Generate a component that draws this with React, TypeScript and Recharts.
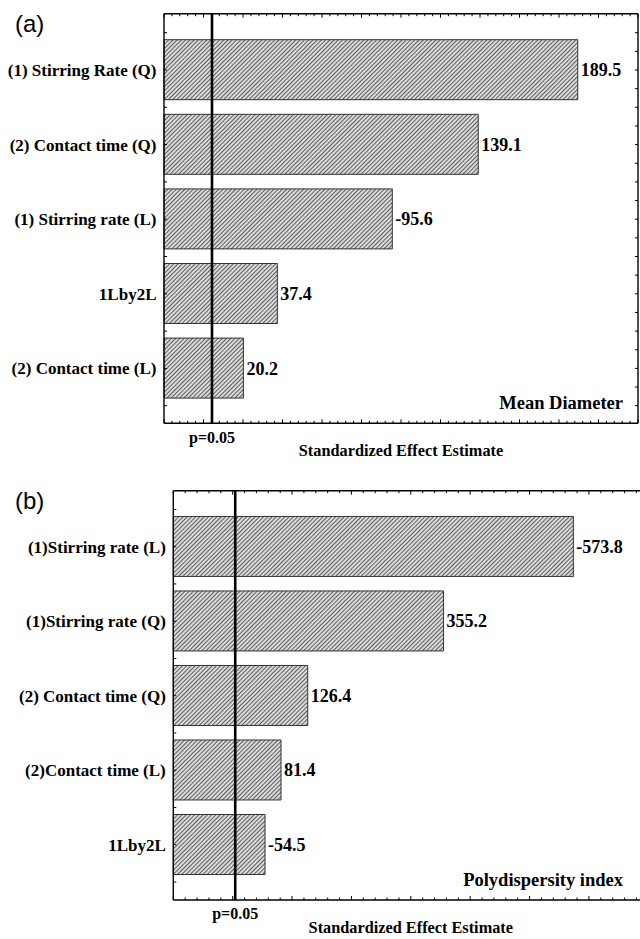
import React from 'react'
import { BarChart, Bar, XAxis, YAxis, ReferenceLine, LabelList } from 'recharts'

// (a) Mean diameter – standardized effects
const diameterTerms = [
  '(1) Stirring Rate (Q)',
  '(2) Contact time (Q)',
  '(1) Stirring rate (L)',
  '1Lby2L',
  '(2) Contact time (L)',
]
const diameterEffects = [189.5, 139.1, -95.6, 37.4, 20.2]

// (b) Polydispersity index – standardized effects
const pdiTerms = [
  '(1)Stirring rate (L)',
  '(1)Stirring rate (Q)',
  '(2) Contact time (Q)',
  '(2)Contact time (L)',
  '1Lby2L',
]
const pdiEffects = [-573.8, 355.2, 126.4, 81.4, -54.5]

const pCritical = 4.3 // p=0.05 line
const pLabel = 'p=0.05'
const xTitle = 'Standardized Effect Estimate'

const diameterDomain: [number, number] = [-20, 220]
const pdiDomain: [number, number] = [-100, 700]

const SERIF = '"Liberation Serif", "Times New Roman", serif'
const SANS = '"Liberation Sans", Arial, sans-serif'
const X_AXIS_H = 20

function buildRows(terms: string[], effects: number[], domain: [number, number]) {
  // Pareto bars run from the axis minimum to |effect|
  return terms.map((term, i) => ({
    term,
    range: [domain[0], Math.abs(effects[i])],
    label: effects[i].toFixed(1),
  }))
}

function minorTicks(domain: [number, number], step: number) {
  const out: number[] = []
  for (let v = domain[0]; v <= domain[1] + 1e-9; v += step) out.push(v)
  return out
}

interface PanelProps {
  id: string
  tag: string
  title: string
  terms: string[]
  effects: number[]
  domain: [number, number]
  tickStep: number
  majorStep: number
  width: number
  height: number
  margin: { top: number; right: number; bottom: number; left: number }
  axisWidth: number
  padding: { top: number; bottom: number }
  band: number
}

function Panel(p: PanelProps) {
  const rows = buildRows(p.terms, p.effects, p.domain)
  const plotLeft = p.margin.left + p.axisWidth
  const plotRight = p.width - p.margin.right
  const plotTop = p.margin.top
  const plotBottom = p.height - p.margin.bottom - X_AXIS_H
  const plotCenter = (plotLeft + plotRight) / 2
  const half = p.band / 2
  const quarter = p.band / 4
  const frame = { stroke: '#000', strokeWidth: 1.4 }

  const ticks = minorTicks(p.domain, p.tickStep)
  const [d0, d1] = p.domain
  const tickX = (v: number) => plotLeft + ((v - d0) / (d1 - d0)) * (plotRight - plotLeft)
  const tickLen = (v: number) => (Math.abs((v - d0) % p.majorStep) < 1e-6 ? 4 : 2.5)

  const renderCategoryTick = (props: any) => {
    const { y, payload, index } = props
    const last = index === rows.length - 1
    const left = [y - half, y]
    if (last) left.push(y + half)
    const right = [y - 2 * quarter, y - quarter, y, y + quarter]
    if (last) right.push(y + 2 * quarter)
    return (
      <g>
        <text
          x={plotLeft - 7.5}
          y={y + 6}
          textAnchor="end"
          fontFamily={SERIF}
          fontWeight="bold"
          fontSize={17}
          fill="#000"
        >
          {payload.value}
        </text>
        {left.map((ty, k) => (
          <line key={'l' + k} x1={plotLeft} x2={plotLeft + 3} y1={ty} y2={ty} stroke="#000" strokeWidth={1} />
        ))}
        {right.map((ty, k) => (
          <line key={'r' + k} x1={plotRight - 3} x2={plotRight} y1={ty} y2={ty} stroke="#000" strokeWidth={1} />
        ))}
        {index === 0 &&
          ticks.map((v) => (
            <g key={'x' + v}>
              <line x1={tickX(v)} x2={tickX(v)} y1={plotBottom} y2={plotBottom - tickLen(v)} stroke="#000" strokeWidth={1} />
              <line x1={tickX(v)} x2={tickX(v)} y1={plotTop} y2={plotTop + tickLen(v)} stroke="#000" strokeWidth={1} />
            </g>
          ))}
      </g>
    )
  }

  const renderValue = (props: any) => {
    const { x, y, width, height, value } = props
    return (
      <text
        x={x + width + 3}
        y={y + height / 2 + 6.5}
        fontFamily={SERIF}
        fontWeight="bold"
        fontSize={18}
        fill="#000"
      >
        {value}
      </text>
    )
  }

  return (
    <BarChart width={p.width} height={p.height} data={rows} layout="vertical" margin={p.margin}>
      <defs>
        <pattern
          id={'hatch-' + p.id}
          patternUnits="userSpaceOnUse"
          width={3}
          height={3}
          patternTransform="rotate(45)"
        >
          <rect width={3} height={3} fill="#dadada" />
          <line x1={0.5} y1={0} x2={0.5} y2={3} stroke="#505050" strokeWidth={0.9} />
        </pattern>
      </defs>
      <XAxis
        type="number"
        domain={p.domain}
        height={X_AXIS_H}
        tick={false}
        tickLine={false}
        axisLine={frame}
      />
      <XAxis
        xAxisId="top"
        orientation="top"
        type="number"
        domain={p.domain}
        mirror
        tick={false}
        tickLine={false}
        axisLine={frame}
      />
      <YAxis
        type="category"
        dataKey="term"
        width={p.axisWidth}
        padding={p.padding}
        axisLine={frame}
        tickLine={false}
        interval={0}
        tick={renderCategoryTick}
      />
      <ReferenceLine x={p.domain[1]} stroke="#000" strokeWidth={1.4} ifOverflow="visible" />
      <Bar
        dataKey="range"
        barSize={60}
        fill={`url(#hatch-${p.id})`}
        stroke="#333"
        strokeWidth={1}
        isAnimationActive={false}
      >
        <LabelList dataKey="label" content={renderValue} />
      </Bar>
      <ReferenceLine
        x={pCritical}
        stroke="#000"
        strokeWidth={2.6}
        label={{
          value: pLabel,
          position: 'bottom',
          offset: 8,
          fontFamily: SERIF,
          fontWeight: 'bold',
          fontSize: 16,
          fill: '#000',
        }}
      />
      <text x={15} y={p.margin.top + 18.5} fontFamily={SANS} fontSize={24} fill="#000">
        {p.tag}
      </text>
      <text
        x={623}
        y={plotBottom - 14.5}
        textAnchor="end"
        fontFamily={SERIF}
        fontWeight="bold"
        fontSize={18.5}
        fill="#000"
      >
        {p.title}
      </text>
      <text
        x={plotCenter}
        y={plotBottom + 33}
        textAnchor="middle"
        fontFamily={SERIF}
        fontWeight="bold"
        fontSize={16.3}
        fill="#000"
      >
        {xTitle}
      </text>
    </BarChart>
  )
}

export default function App() {
  return (
    <div
      style={{
        position: 'absolute',
        left: 0,
        top: 0,
        width: 640,
        height: 939,
        overflow: 'hidden',
        background: '#fff',
      }}
    >
      <div style={{ position: 'absolute', left: 0, top: 0 }}>
        <Panel
          id="a"
          tag="(a)"
          title="Mean Diameter"
          terms={diameterTerms}
          effects={diameterEffects}
          domain={diameterDomain}
          tickStep={4}
          majorStep={20}
          width={640}
          height={470}
          margin={{ top: 13.7, right: 2, bottom: 26.7, left: 0 }}
          axisWidth={164}
          padding={{ top: 19, bottom: 17.6 }}
          band={74.6}
        />
      </div>
      <div style={{ position: 'absolute', left: 0, top: 470 }}>
        <Panel
          id="b"
          tag="(b)"
          title="Polydispersity index"
          terms={pdiTerms}
          effects={pdiEffects}
          domain={pdiDomain}
          tickStep={20}
          majorStep={100}
          width={650}
          height={469}
          margin={{ top: 20.7, right: 1.7, bottom: 19, left: 0 }}
          axisWidth={173.3}
          padding={{ top: 18.75, bottom: 18 }}
          band={74.5}
        />
      </div>
    </div>
  )
}
